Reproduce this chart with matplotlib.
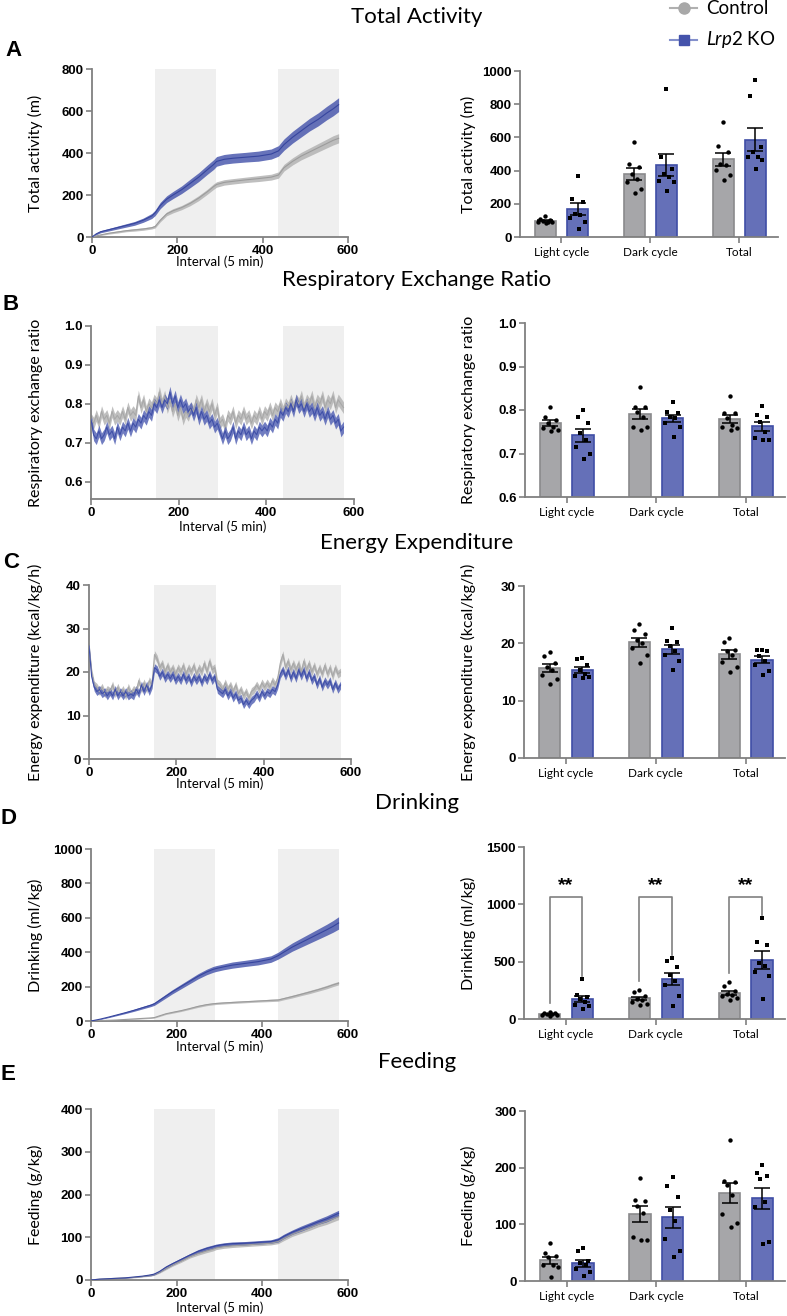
import numpy as np
import matplotlib
matplotlib.use('Agg')
import matplotlib.pyplot as plt
from matplotlib.lines import Line2D

plt.rcParams['font.family'] = ['Lato', 'DejaVu Sans']
plt.rcParams['mathtext.fontset'] = 'custom'
plt.rcParams['mathtext.rm'] = 'Lato'
plt.rcParams['mathtext.it'] = 'Lato:italic'

# ---------------- data ----------------
groups = ['Light cycle', 'Dark cycle', 'Total']
light_dark = [(148, 290), (437, 578)]

# cumulative curves (interval, value, sem)
cum_t = [0, 10, 20, 40, 60, 80, 100, 120, 140, 148, 160, 175, 190, 210, 230, 250, 270, 285, 292,
         310, 330, 360, 390, 420, 437, 450, 470, 490, 510, 530, 550, 565, 578]

act_ctrl = [0, 5, 10, 18, 24, 30, 34, 38, 44, 50, 80, 110, 125, 140, 160, 185, 215, 240, 250,
            260, 265, 272, 278, 285, 295, 330, 360, 385, 405, 425, 445, 460, 470]
act_ctrl_sem = [0, 2, 3, 4, 5, 5, 6, 6, 6, 7, 8, 9, 10, 10, 11, 12, 12, 13, 13,
                13, 13, 13, 14, 14, 15, 16, 17, 18, 19, 20, 21, 22, 22]
act_ko = [0, 15, 25, 35, 45, 55, 65, 80, 100, 115, 150, 180, 200, 225, 255, 285, 320, 345, 360,
          370, 375, 380, 385, 395, 410, 440, 475, 505, 535, 560, 590, 610, 630]
act_ko_sem = [0, 4, 5, 6, 7, 8, 9, 10, 12, 13, 15, 16, 17, 18, 20, 21, 22, 23, 23,
              23, 23, 23, 24, 24, 25, 27, 28, 29, 30, 31, 32, 33, 33]

drink_ctrl = [0, 1, 2, 4, 6, 9, 12, 15, 18, 20, 30, 42, 50, 60, 72, 85, 95, 100, 102,
              105, 108, 112, 116, 120, 122, 130, 142, 155, 168, 182, 197, 210, 220]
drink_ctrl_sem = [0, 0.5, 1, 1, 2, 2, 2, 3, 3, 3, 4, 4, 5, 5, 5, 6, 6, 6, 6,
                  6, 6, 6, 6, 7, 7, 7, 8, 8, 9, 9, 10, 10, 10]
drink_ko = [0, 5, 10, 22, 35, 48, 62, 77, 92, 100, 120, 145, 170, 200, 230, 260, 285, 300, 305,
            315, 325, 335, 345, 360, 380, 400, 430, 455, 480, 505, 530, 550, 570]
drink_ko_sem = [0, 1, 2, 3, 4, 5, 6, 7, 8, 9, 10, 11, 12, 13, 14, 15, 16, 17, 17,
                17, 18, 18, 19, 19, 20, 22, 24, 26, 28, 30, 32, 34, 36]

feed_ctrl = [0, 1, 2, 3, 4, 5, 6, 8, 11, 13, 18, 27, 35, 44, 54, 62, 68, 72, 75,
             78, 80, 82, 84, 86, 90, 97, 107, 115, 122, 130, 137, 143, 148]
feed_ctrl_sem = [0, 0.5, 0.5, 1, 1, 1, 1, 1, 2, 2, 2, 3, 3, 3, 3, 4, 4, 4, 4,
                 4, 4, 4, 4, 4, 5, 5, 5, 6, 6, 6, 7, 7, 7]
feed_ko = [0, 1, 2, 3, 4, 5, 7, 9, 12, 14, 20, 30, 38, 48, 58, 67, 74, 78, 80,
           83, 85, 86, 88, 90, 94, 102, 112, 120, 128, 136, 143, 150, 156]
feed_ko_sem = [0, 0.5, 0.5, 1, 1, 1, 1, 1, 2, 2, 2, 3, 3, 3, 3, 4, 4, 4, 4,
               4, 4, 4, 4, 4, 5, 5, 5, 6, 6, 6, 7, 7, 7]

# noisy traces, one value every 6 intervals
rer_ctrl = [0.76, 0.75, 0.77, 0.75, 0.78, 0.76, 0.77, 0.75, 0.78, 0.76,
            0.77, 0.76, 0.78, 0.76, 0.79, 0.77, 0.78, 0.77, 0.82, 0.79,
            0.81, 0.78, 0.80, 0.79, 0.81, 0.80, 0.83, 0.80, 0.82, 0.79,
            0.81, 0.78, 0.80, 0.77, 0.79, 0.76, 0.78, 0.77, 0.79, 0.78,
            0.81, 0.79, 0.81, 0.78, 0.80, 0.78, 0.80, 0.77, 0.79, 0.75,
            0.76, 0.74, 0.77, 0.76, 0.78, 0.75, 0.77, 0.76, 0.78, 0.76,
            0.77, 0.75, 0.77, 0.76, 0.78, 0.76, 0.78, 0.77, 0.79, 0.77,
            0.79, 0.78, 0.80, 0.78, 0.80, 0.79, 0.81, 0.79, 0.81, 0.80,
            0.82, 0.79, 0.81, 0.80, 0.82, 0.79, 0.81, 0.80, 0.82, 0.79,
            0.81, 0.80, 0.82, 0.79, 0.81, 0.80, 0.79]
rer_ko = [0.76, 0.72, 0.71, 0.73, 0.71, 0.72, 0.74, 0.72, 0.73, 0.71,
          0.74, 0.72, 0.74, 0.73, 0.75, 0.73, 0.75, 0.74, 0.76, 0.75,
          0.77, 0.76, 0.78, 0.77, 0.80, 0.79, 0.81, 0.79, 0.81, 0.80,
          0.83, 0.80, 0.82, 0.79, 0.81, 0.79, 0.80, 0.78, 0.79, 0.77,
          0.79, 0.76, 0.78, 0.76, 0.77, 0.75, 0.76, 0.74, 0.75, 0.73,
          0.71, 0.73, 0.71, 0.72, 0.74, 0.71, 0.73, 0.72, 0.74, 0.72,
          0.73, 0.71, 0.73, 0.72, 0.74, 0.73, 0.74, 0.73, 0.75, 0.74,
          0.76, 0.75, 0.78, 0.77, 0.79, 0.78, 0.80, 0.78, 0.81, 0.79,
          0.80, 0.78, 0.80, 0.78, 0.79, 0.77, 0.79, 0.77, 0.78, 0.76,
          0.78, 0.76, 0.77, 0.75, 0.76, 0.73, 0.74]
rer_sem = 0.015

ee_ctrl = [26, 20, 17, 16.5, 15.5, 16.5, 15, 16, 15.5, 17,
           15, 16.5, 15, 16, 14.5, 16.5, 15, 16, 15.5, 18,
           16, 17.5, 16, 18, 17, 24, 23, 21, 22, 20,
           21.5, 20, 21, 19.5, 21, 20, 21.5, 19.5, 21, 20,
           21.5, 19.5, 21, 20, 22, 20, 22.5, 20.5, 21, 17.5,
           17, 16, 17.5, 16, 17, 15.5, 17, 15, 16, 14.5,
           15.5, 14, 15.5, 16, 17, 16, 17.5, 16.5, 17.5, 16.5,
           18, 17, 18.5, 22, 24, 21, 22.5, 20.5, 22, 20.5,
           22, 20, 22.5, 20.5, 22, 20, 21.5, 19.5, 21, 19.5,
           21.5, 19.5, 21, 19, 21, 19.5, 20]
ee_ko = [26, 19, 16.5, 15.5, 16, 15, 15.5, 14.5, 15.5, 14.5,
         16, 14.5, 15.5, 14.5, 15.5, 14.5, 15, 14.5, 16, 15,
         17, 15.5, 17, 15.5, 17, 21, 20.5, 19, 20, 18.5,
         19.5, 18.5, 19.5, 18, 19, 18, 19.5, 18, 19, 17.5,
         19, 18, 19, 17.5, 19, 18, 19.5, 18, 19, 16,
         15.5, 15, 16, 14.5, 15.5, 14, 15, 13.5, 14, 12.5,
         13.5, 12.5, 13.5, 14, 15, 14, 15.5, 14.5, 15.5, 15,
         16, 15.5, 17, 19.5, 20.5, 19, 20.5, 18.5, 20, 18.5,
         20.5, 19, 20.5, 18.5, 20, 18, 19, 17, 18.5, 16.5,
         18, 17, 18, 16, 17.5, 16, 17]
ee_sem = 0.9

# individual animals: [light, dark, total]
act_pts_ctrl = [[125, 110, 100, 95, 92, 90, 88, 85],
                [572, 440, 420, 380, 350, 330, 290, 265],
                [693, 548, 512, 442, 432, 402, 372, 341]]
act_pts_ko = [[370, 230, 210, 140, 130, 115, 90, 50],
              [893, 480, 410, 380, 360, 340, 330, 280],
              [944, 847, 542, 512, 482, 482, 462, 410]]
rer_pts_ctrl = [[0.808, 0.785, 0.778, 0.770, 0.762, 0.758, 0.755, 0.752],
                [0.854, 0.808, 0.806, 0.796, 0.785, 0.762, 0.762, 0.754],
                [0.832, 0.794, 0.792, 0.781, 0.765, 0.762, 0.758, 0.755]]
rer_pts_ko = [[0.800, 0.785, 0.769, 0.746, 0.731, 0.715, 0.698, 0.688],
              [0.819, 0.796, 0.794, 0.785, 0.781, 0.769, 0.762, 0.738],
              [0.809, 0.788, 0.785, 0.773, 0.750, 0.735, 0.731, 0.731]]
ee_pts_ctrl = [[18.5, 17.8, 16.5, 15.9, 15.3, 14.4, 13.7, 12.9],
               [23.4, 22.3, 21.7, 20.6, 20.0, 19.1, 17.9, 16.5],
               [21.0, 20.3, 18.9, 18.7, 17.9, 16.8, 15.9, 15.0]]
ee_pts_ko = [[17.4, 17.2, 16.2, 15.4, 14.6, 14.3, 14.2, 13.9],
             [22.6, 20.4, 20.2, 19.6, 18.6, 18.0, 16.9, 15.4],
             [18.9, 18.8, 18.6, 17.8, 17.0, 16.2, 15.1, 14.5]]
drink_pts_ctrl = [[60, 55, 50, 45, 40, 38, 35, 30],
                  [255, 235, 200, 175, 165, 150, 135, 120],
                  [319, 284, 240, 220, 211, 203, 182, 168]]
drink_pts_ko = [[348, 210, 190, 175, 150, 120, 110, 85],
                [530, 505, 450, 380, 330, 300, 200, 110],
                [877, 675, 646, 487, 458, 414, 371, 174]]
feed_pts_ctrl = [[67.5, 48.7, 44, 41.7, 28.2, 28.2, 24, 7.6],
                 [182, 143, 142, 133, 120, 78, 73, 72],
                 [249.6, 176.7, 175, 169, 151.5, 119, 101.6, 95.7]]
feed_pts_ko = [[57.5, 53.4, 35.8, 31.1, 28.2, 20.6, 16.4, 8.8],
               [183.8, 167, 148.6, 125, 105.7, 75, 52.8, 41.7],
               [205, 190, 186, 180, 140, 130, 68, 66]]

# ---------------- style ----------------
W, H = 787, 1316
GRAY_BAR, GRAY_EDGE = '#a6a6a9', '#8a8a8c'
BLUE_BAR, BLUE_EDGE = '#6570b8', '#3f4ea6'
GRAY_LINE, BLUE_LINE = '#b4b4b4', '#4c5aae'
SPINE = '#808080'
SHADE = '#efefef'
G = 2.75
jitter = np.array([0.0, -0.16, 0.16, -0.08, 0.08, -0.22, 0.22, 0.03])
TICKFONT = dict(fontweight='bold', fontfamily='Liberation Sans', fontsize=9.5)

fig = plt.figure(figsize=(W / 100, H / 100), dpi=100)


def px_axes(x0, x1, ytop, ybot):
    return fig.add_axes([x0 / W, 1 - ybot / H, (x1 - x0) / W, (ybot - ytop) / H])


def fmt(t):
    return f'{t:.1f}' if isinstance(t, float) else str(t)


def style(ax, yticks):
    for s in ['top', 'right']:
        ax.spines[s].set_visible(False)
    for s in ['left', 'bottom']:
        ax.spines[s].set_color(SPINE)
        ax.spines[s].set_linewidth(1.3)
    ax.tick_params(direction='out', length=4, width=1.2, color=SPINE, pad=2)
    ax.set_yticks(yticks, [fmt(t) for t in yticks], **TICKFONT)


def line_panel(box, ylim, yticks, ylabel, xlab_y, curves):
    x0, x1, ytop, ybot = box
    ax = px_axes(x0, x1, ytop, ybot)
    for a, b in light_dark:
        ax.axvspan(a, b, color=SHADE, lw=0, zorder=0)
    for t, v, s, c, lc in curves:
        t = np.asarray(t)
        v = np.asarray(v, float)
        s = np.broadcast_to(np.asarray(s, float), v.shape)
        ax.fill_between(t, v - s, v + s, color=c, alpha=0.85, lw=0, zorder=2)
        ax.plot(t, v, color=lc, lw=0.8, zorder=3)
    ax.set_xlim(0, 600)
    ax.set_ylim(*ylim)
    style(ax, yticks)
    xt = [0, 200, 400, 600]
    ax.set_xticks(xt, [str(t) for t in xt], **TICKFONT)
    ax.set_ylabel(ylabel, fontsize=11.5)
    ax.yaxis.set_label_coords((43 - x0) / (x1 - x0), 0.5)
    ax.set_xlabel('Interval (5 min)', fontsize=9.5)
    ax.xaxis.set_label_coords(0.5, -(xlab_y - ybot) / (ybot - ytop))
    ax.xaxis.label.set_va('center')
    return ax


def bar_panel(box, ctrl, ko, ylim, yticks, ylabel):
    x0, x1, ytop, ybot = box
    ax = px_axes(x0, x1, ytop, ybot)
    base = ylim[0]
    for g in range(3):
        for vals, dx, fc, ec, mk in [(ctrl[g], -0.5, GRAY_BAR, GRAY_EDGE, 'o'),
                                     (ko[g], 0.5, BLUE_BAR, BLUE_EDGE, 's')]:
            vals = np.asarray(vals, float)
            x = g * G + dx
            m = vals.mean()
            se = vals.std(ddof=1) / np.sqrt(len(vals))
            ax.bar(x, m - base, bottom=base, width=0.65, color=fc, edgecolor=ec, lw=1.2, zorder=2)
            ax.scatter(x + jitter[:len(vals)], vals, s=10 if mk == 'o' else 9, marker=mk,
                       color='black', lw=0, zorder=4)
            ax.errorbar(x, m, yerr=se, color='black', capsize=5.5, lw=1.1, capthick=1.1, zorder=5)
    ax.set_xlim(-1.28, 6.7)
    ax.set_ylim(*ylim)
    style(ax, yticks)
    ax.set_xticks([g * G for g in range(3)], groups, fontsize=8.5)
    ax.tick_params(axis='x', pad=3)
    ax.set_ylabel(ylabel, fontsize=11.5)
    ax.yaxis.set_label_coords((476 - x0) / (x1 - x0), 0.5)
    return ax


# ---------------- panels ----------------
line_panel((92, 348, 69, 237), (0, 800), [0, 200, 400, 600, 800], 'Total activity (m)', 262,
           [(cum_t, act_ctrl, act_ctrl_sem, GRAY_LINE, '#9c9c9c'),
            (cum_t, act_ko, act_ko_sem, BLUE_LINE, '#36459e')])
bar_panel((520, 778, 71, 237), act_pts_ctrl, act_pts_ko, (0, 1000),
          [0, 200, 400, 600, 800, 1000], 'Total activity (m)')

line_panel((91, 354, 326, 499), (0.555, 1.0), [0.6, 0.7, 0.8, 0.9, 1.0],
           'Respiratory exchange ratio', 527,
           [(np.arange(len(rer_ctrl)) * 6, rer_ctrl, rer_sem, GRAY_LINE, '#a8a8a8'),
            (np.arange(len(rer_ko)) * 6, rer_ko, rer_sem, '#5866b6', '#4050a8')])
bar_panel((525, 785, 323, 497), rer_pts_ctrl, rer_pts_ko, (0.6, 1.0),
          [0.6, 0.7, 0.8, 0.9, 1.0], 'Respiratory exchange ratio')

line_panel((89, 351, 585, 759), (0, 40), [0, 10, 20, 30, 40],
           'Energy expenditure (kcal/kg/h)', 784,
           [(np.arange(len(ee_ctrl)) * 6, ee_ctrl, ee_sem, GRAY_LINE, '#a8a8a8'),
            (np.arange(len(ee_ko)) * 6, ee_ko, ee_sem, '#5866b6', '#4050a8')])
bar_panel((524, 785, 586, 758), ee_pts_ctrl, ee_pts_ko, (0, 30),
          [0, 10, 20, 30], 'Energy expenditure (kcal/kg/h)')

line_panel((91, 348, 849, 1021), (0, 1000), [0, 200, 400, 600, 800, 1000], 'Drinking (ml/kg)', 1047,
           [(cum_t, drink_ctrl, drink_ctrl_sem, GRAY_LINE, '#9c9c9c'),
            (cum_t, drink_ko, drink_ko_sem, BLUE_LINE, '#36459e')])
axd = bar_panel((524, 785, 847, 1019), drink_pts_ctrl, drink_pts_ko, (0, 1500),
                [0, 500, 1000, 1500], 'Drinking (ml/kg)')
# significance brackets
for g in range(3):
    xl, xr = g * G - 0.5, g * G + 0.5
    top = 1060
    axd.plot([xl, xl, xr, xr], [max(drink_pts_ctrl[g]) + 80, top, top, max(drink_pts_ko[g]) + 30],
             color=SPINE, lw=1.2, zorder=3)
    axd.text(g * G, top + 30, '**', ha='center', va='bottom', fontsize=14,
             fontweight='bold', family='Liberation Sans')

line_panel((91, 348, 1109, 1280), (0, 400), [0, 100, 200, 300, 400], 'Feeding (g/kg)', 1308,
           [(cum_t, feed_ctrl, feed_ctrl_sem, GRAY_LINE, '#9c9c9c'),
            (cum_t, feed_ko, feed_ko_sem, BLUE_LINE, '#36459e')])
bar_panel((525, 785, 1111, 1281), feed_pts_ctrl, feed_pts_ko, (0, 300),
          [0, 100, 200, 300], 'Feeding (g/kg)')

# ---------------- titles, letters, legend ----------------
titles = [('Total Activity', 17), ('Respiratory Exchange Ratio', 280), ('Energy Expenditure', 543),
          ('Drinking', 803), ('Feeding', 1062)]
for txt, y in titles:
    fig.text(417 / W, 1 - y / H, txt, ha='center', va='center', fontsize=16)

letters = [('A', 13, 50), ('B', 11, 305), ('C', 11, 563), ('D', 9, 818), ('E', 8, 1075)]
for txt, x, y in letters:
    fig.text(x / W, 1 - y / H, txt, ha='center', va='center', fontsize=16,
             fontweight='bold', family='Liberation Sans')

for y, lc, mc, mk, lab in [(8, '#b0b0b0', '#a8a8a8', 'o', 'Control'),
                           (40, '#8490cc', '#4453ab', 's', r'$\mathit{Lrp2}$ KO')]:
    fig.add_artist(Line2D([670 / W, 697 / W], [1 - y / H, 1 - y / H], transform=fig.transFigure,
                          color=lc, lw=1.5))
    fig.add_artist(Line2D([683.5 / W], [1 - y / H], transform=fig.transFigure, marker=mk,
                          ms=8 if mk == 'o' else 7.5, color=mc, lw=0))
    fig.text(706 / W, 1 - y / H, lab, ha='left', va='center', fontsize=13.5)

fig.savefig('out.png', dpi=100)
